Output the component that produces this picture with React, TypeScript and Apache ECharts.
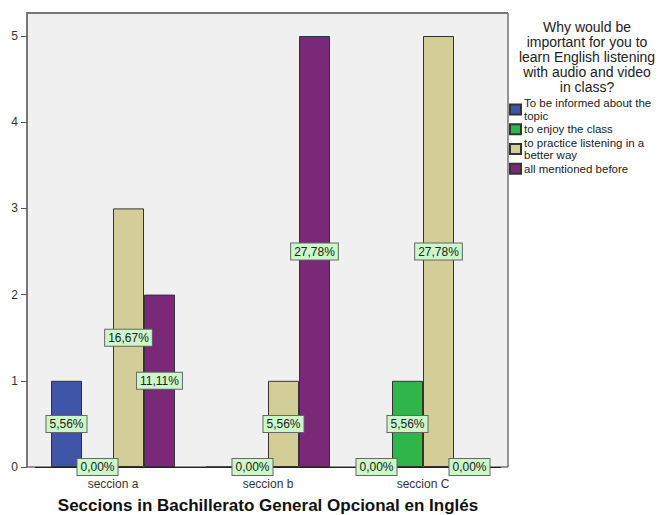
import React, { useEffect, useRef } from "react";
import * as echarts from "echarts";

const categories = ["seccion a", "seccion b", "seccion C"];
const seriesNames = [
  "To be informed about the\ntopic",
  "to enjoy the class",
  "to practice listening in a\nbetter way",
  "all mentioned before",
];
const informed = [1, 0, 0];
const enjoy = [0, 0, 1];
const practice = [3, 1, 5];
const allMentioned = [2, 5, 0];
const seriesColors = ["#3F56A8", "#2FB54A", "#D3CD98", "#7A2878"];
// labels hidden in the reference: [seriesIndex, categoryIndex]
const hiddenLabels = [[0, 1]];
const yTicks = [0, 1, 2, 3, 4, 5];
const legendTitle =
  "Why would be\nimportant for you to\nlearn English listening\nwith audio and video\nin class?";
const xTitle = "Seccions in Bachillerato General Opcional en Inglés";

export default function App() {
  const ref = useRef<HTMLDivElement>(null);
  useEffect(() => {
    document.body.style.margin = "0";
    const chart = echarts.init(ref.current!, null, { renderer: "svg" });
    const allSeries = [informed, enjoy, practice, allMentioned];
    const total = allSeries.reduce((s, arr) => s + arr.reduce((a, b) => a + b, 0), 0);
    const font = "Liberation Sans, Arial, sans-serif";
    chart.setOption({
      animation: false,
      backgroundColor: "#ffffff",
      textStyle: { fontFamily: font },
      grid: { left: 35.5, width: 465, top: 36, height: 431, outerBoundsMode: "none", containLabel: false },
      graphic: [
        {
          type: "rect",
          z: -10,
          shape: { x: 27, y: 13, width: 481, height: 454 },
          style: { fill: "#F0F0F0", stroke: "#333", lineWidth: 1 },
        },
        {
          type: "polyline",
          z: -9,
          shape: { points: [[27, 467], [27, 13], [508, 13]] },
          style: { stroke: "#777", lineWidth: 2, fill: null },
        },
        {
          type: "text",
          x: 587,
          y: 19,
          style: {
            text: legendTitle,
            font: `14px ${font}`,
            fill: "#222",
            textAlign: "center",
            textVerticalAlign: "top",
            lineHeight: 15,
          },
        },
      ],
      legend: {
        orient: "vertical",
        left: 509,
        top: 97,
        padding: 0,
        itemWidth: 11,
        itemHeight: 10,
        itemGap: 1,
        icon: "rect",
        textStyle: { fontSize: 11.5, lineHeight: 12.5, color: "#222", padding: [0, 0, 0, -2] },
        data: seriesNames,
      },
      xAxis: {
        type: "category",
        data: categories,
        name: xTitle,
        nameLocation: "middle",
        nameGap: 30,
        nameTextStyle: { fontSize: 17, fontWeight: "bold", color: "#111" },
        axisLine: { lineStyle: { color: "#222", width: 1 } },
        axisTick: { alignWithLabel: true, length: 4, lineStyle: { color: "#444" } },
        axisLabel: { fontSize: 12, color: "#333", margin: 11 },
      },
      yAxis: {
        type: "value",
        min: yTicks[0],
        max: yTicks[yTicks.length - 1],
        interval: 1,
        offset: 8.5,
        splitLine: { show: false },
        axisLine: { show: true, lineStyle: { color: "#777", width: 2 } },
        axisTick: { show: true, length: 6, lineStyle: { color: "#555", width: 1 } },
        axisLabel: { fontSize: 12, color: "#333", margin: 9 },
      },
      series: allSeries.map((values, si) => ({
        type: "bar",
        name: seriesNames[si],
        barGap: "0%",
        barCategoryGap: "20%",
        itemStyle: { color: seriesColors[si], borderColor: "#333", borderWidth: 1 },
        label: {
          show: true,
          position: "inside",
          fontSize: 12,
          lineHeight: 13,
          color: "#222",
          backgroundColor: "#CCF7C8",
          borderColor: "#666",
          borderWidth: 1,
          padding: [2, 3, 1, 3],
          formatter: (p: any) =>
            ((p.value / total) * 100).toFixed(2).replace(".", ",") + "%",
        },
        data: values.map((v, ci) =>
          hiddenLabels.some(([s, c]) => s === si && c === ci)
            ? { value: v, label: { show: false } }
            : v
        ),
      })),
    });
    return () => chart.dispose();
  }, []);
  return <div ref={ref} style={{ width: 662, height: 515 }} />;
}
